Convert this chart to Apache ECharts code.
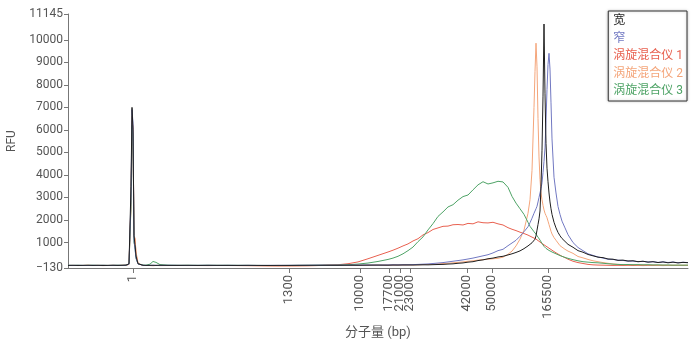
<!DOCTYPE html>
<html>
<head>
<meta charset="utf-8">
<title>RFU</title>
<script src="https://cdn.jsdelivr.net/npm/echarts@6/dist/echarts.min.js"></script>
<style>
  html, body { margin: 0; padding: 0; background: #ffffff; }
  #chart { width: 696px; height: 339px; }
</style>
</head>
<body>
<div id="chart"></div>
<script>
// migration position (arbitrary units along the run), shared by all traces
const migration = [
  0, 5, 10, 15, 20, 25, 30, 35, 40, 45, 50, 55,
  58, 61, 63, 64, 65, 66, 67, 68, 70, 72, 75, 78,
  82, 85, 88, 92, 100, 110, 120, 130, 140, 150,
  160, 170, 180, 190, 200, 210, 220, 230, 240, 250,
  260, 270, 280, 290, 300, 310, 320, 325, 330, 335,
  340, 345, 350, 355, 360, 365, 370, 375, 380, 385,
  390, 395, 400, 405, 410, 415, 420, 425, 430, 435,
  440, 444, 448, 452, 456, 460, 462, 464, 466, 467,
  468, 469, 470, 471, 472, 473, 474, 475, 476, 477,
  478, 479, 480, 481, 482, 483, 484, 486, 488, 490,
  492, 494, 497, 500, 505, 510, 515, 520, 525, 530,
  535, 540, 545, 550, 555, 560, 565, 570, 575, 580,
  585, 590, 595, 600, 605, 610, 615, 620
]

// RFU values, one per migration position
const wide = [
  -15, -11, -17, -13, -9, -15, -12, -18, -14, -10, -16, -8,
  -5, 60, 3500, 7000, 6000, 1300, 900, 400, 60, 10, -10, -15,
  -12, -10, -14, -9, -13, -15, -11, -16, -12, -14,
  -14, -16, -12, -15, -17, -13, -15, -12, -10, -8,
  -8, -10, -5, -8, -3, 0, -5, 2, 0, 5,
  5, 3, 8, 12, 10, 18, 25, 30, 45, 55,
  80, 95, 130, 150, 200, 230, 280, 310, 360, 390,
  450, 500, 560, 630, 730, 850, 920, 990, 1070, 1150,
  1300, 1550, 1800, 2050, 2400, 3500, 5100, 7500, 10700, 7600,
  5400, 4300, 3700, 3200, 2800, 2500, 2250, 1900, 1650, 1450,
  1300, 1180, 1050, 920, 790, 640, 570, 470, 410, 350,
  330, 270, 260, 210, 220, 180, 190, 150, 170, 130,
  150, 110, 140, 100, 130, 95, 120, 105
]
const narrow = [
  -13, -17, -11, -15, -19, -12, -16, -10, -17, -13, -11, -15,
  -5, 40, 3000, 6900, 6300, 1100, 700, 300, 50, 0, -12, -14,
  -14, -11, -13, -15, -10, -12, -16, -13, -11, -15,
  -12, -15, -13, -17, -14, -16, -12, -10, -8, -5,
  -5, -2, -6, 0, 3, -2, 5, 10, 8, 12,
  12, 20, 30, 40, 50, 70, 90, 110, 140, 170,
  200, 230, 270, 310, 360, 410, 460, 540, 640, 700,
  860, 980, 1100, 1280, 1480, 1700, 1880, 2080, 2300, 2400,
  2500, 2610, 2800, 3000, 3200, 3400, 3650, 4100, 4600, 5200,
  6400, 7800, 8900, 9400, 8700, 7200, 5600, 3900, 3200, 2600,
  2250, 1950, 1650, 1350, 1000, 780, 640, 500, 430, 360,
  310, 260, 250, 215, 205, 175, 180, 150, 165, 135,
  150, 120, 140, 115, 135, 105, 125, 110
]
const vortex1 = [
  -20, -15, -21, -17, -13, -19, -15, -22, -18, -14, -19, -12,
  -10, 30, 2800, 6400, 6100, 1250, 1150, 500, 70, -5, -20, -18,
  -20, -25, -18, -22, -20, -17, -21, -19, -23, -18,
  -20, -22, -25, -30, -35, -38, -36, -34, -30, -20,
  0, 15, 60, 140, 280, 430, 580, 660, 750, 850,
  940, 1070, 1170, 1340, 1440, 1580, 1650, 1720, 1730, 1790,
  1800, 1780, 1850, 1830, 1920, 1880, 1870, 1900, 1830, 1780,
  1660, 1590, 1530, 1460, 1400, 1330, 1280, 1240, 1200, 1180,
  1150, 1120, 1090, 1060, 1020, 990, 960, 930, 900, 870,
  840, 810, 780, 750, 720, 690, 650, 600, 540, 490,
  440, 390, 330, 260, 170, 110, 70, 30, 10, 0,
  -5, -10, -15, -12, -18, -15, -20, -16, -22, -18,
  -20, -16, -22, -18, -20, -17, -21, -19
]
const vortex2 = [
  -17, -21, -15, -19, -14, -20, -16, -13, -19, -15, -18, -11,
  -8, 35, 2700, 6600, 6000, 1300, 1200, 600, 80, 0, -18, -20,
  -18, -22, -20, -16, -21, -19, -17, -22, -18, -20,
  -18, -21, -24, -28, -32, -35, -37, -33, -28, -22,
  -15, -10, -12, -6, -8, -2, -5, 0, 2, 3,
  5, 8, 12, 20, 30, 40, 55, 70, 80, 100,
  120, 140, 170, 190, 220, 240, 260, 280, 300, 350,
  480, 620, 850, 1150, 1550, 2300, 2900, 4200, 7000, 8600,
  9850, 8800, 6500, 4800, 3800, 3200, 2900, 2650, 2450, 2300,
  2200, 2100, 1950, 1800, 1650, 1500, 1380, 1220, 1100, 980,
  860, 780, 700, 620, 520, 380, 320, 250, 190, 150,
  110, 80, 50, 30, 20, 10, 15, 5, 10, 0,
  5, -5, 0, -8, -3, -10, -5, -8
]
const vortex3 = [
  -10, -14, -8, -16, -11, -7, -13, -9, -15, -11, -6, -10,
  -5, 40, 2600, 6200, 5800, 1000, 800, 300, 60, 10, 0, -5,
  40, 160, 120, 20, -5, -10, -8, -12, -9, -11,
  -10, -12, -14, -16, -18, -20, -17, -14, -12, -8,
  -5, 0, 15, 45, 90, 160, 250, 310, 390, 500,
  640, 800, 1040, 1250, 1560, 1840, 2160, 2360, 2580, 2680,
  2880, 3040, 3110, 3340, 3560, 3700, 3600, 3650, 3720, 3690,
  3450, 3050, 2750, 2500, 2250, 1900, 1720, 1600, 1480, 1420,
  1370, 1300, 1240, 1180, 1110, 1040, 960, 880, 830, 790,
  740, 710, 680, 650, 620, 600, 580, 540, 500, 460,
  420, 390, 340, 300, 240, 190, 150, 130, 110, 100,
  80, 60, 40, 30, 20, 25, 15, 20, 10, 15,
  5, 10, 0, 5, -5, 0, -5, 0
]

// size ladder: where each marker runs, and its label
const ladderPos = [65, 221, 292, 321, 332, 342, 399, 424, 480]
const ladderBp = ['1', '1300', '10000', '17700', '21000', '23000', '42000', '50000', '165500']
const yTicks = [-130, 1000, 2000, 3000, 4000, 5000, 6000, 7000, 8000, 9000, 10000, 11145]

const names = ['宽', '窄', '涡旋混合仪 1', '涡旋混合仪 2', '涡旋混合仪 3']
const colors = ['#1e1e1e', '#7178c2', '#e8604f', '#f4a57a', '#4ea366']
const traces = [wide, narrow, vortex1, vortex2, vortex3]

const font = 'Roboto, "Noto Sans CJK SC", sans-serif'

const myChart = echarts.init(document.getElementById('chart'))

// draw order: vortex traces first, black last so it sits on top
const drawOrder = [2, 3, 4, 1, 0]
const series = drawOrder.map(i => ({
  name: names[i],
  type: 'line',
  showSymbol: false,
  symbol: 'none',
  data: migration.map((x, k) => [x, traces[i][k]]),
  lineStyle: { width: 1, color: colors[i] },
  itemStyle: { color: colors[i] },
  emphasis: { disabled: true }
}))

myChart.setOption({
  animation: false,
  legend: {
    data: names.map((n, i) => ({ name: n, textStyle: { color: colors[i] } })),
    orient: 'vertical',
    right: 9,
    top: 11,
    icon: 'none',
    itemWidth: 0,
    itemHeight: 14,
    itemGap: 4.5,
    padding: [3, 4, 4, 0],
    borderColor: '#333',
    borderWidth: 1,
    backgroundColor: '#fff',
    shadowBlur: 3,
    shadowColor: 'rgba(0,0,0,0.25)',
    textStyle: { fontSize: 12, fontFamily: font }
  },
  grid: {
    left: 68,
    right: 8,
    top: 14,
    bottom: 71,
    outerBoundsMode: 'none',
    containLabel: false
  },
  xAxis: {
    type: 'value',
    min: 0,
    max: 620,
    name: '分子量 (bp)',
    nameLocation: 'middle',
    nameGap: 48,
    nameTextStyle: { color: '#555', fontSize: 13, fontFamily: font },
    axisLine: { onZero: false, lineStyle: { color: '#777' } },
    axisTick: { customValues: ladderPos, length: 5, lineStyle: { color: '#777' } },
    axisLabel: {
      customValues: ladderPos,
      rotate: 90,
      margin: 7,
      color: '#555',
      fontSize: 13,
      fontFamily: font,
      formatter: v => ladderBp[ladderPos.indexOf(v)]
    },
    splitLine: { show: false }
  },
  yAxis: {
    type: 'value',
    min: -130,
    max: 11145,
    name: 'RFU',
    nameLocation: 'middle',
    nameGap: 44,
    nameTextStyle: { color: '#555', fontSize: 12, fontFamily: font },
    axisLine: { show: true, onZero: false, lineStyle: { color: '#777' } },
    axisTick: { show: true, customValues: yTicks, length: 4, lineStyle: { color: '#777' } },
    axisLabel: {
      customValues: yTicks,
      margin: 5,
      color: '#555',
      fontSize: 12,
      fontFamily: font,
      formatter: v => (v < 0 ? '\u2212' + Math.abs(v) : String(v))
    },
    splitLine: { show: false }
  },
  series: series
})
</script>
</body>
</html>
